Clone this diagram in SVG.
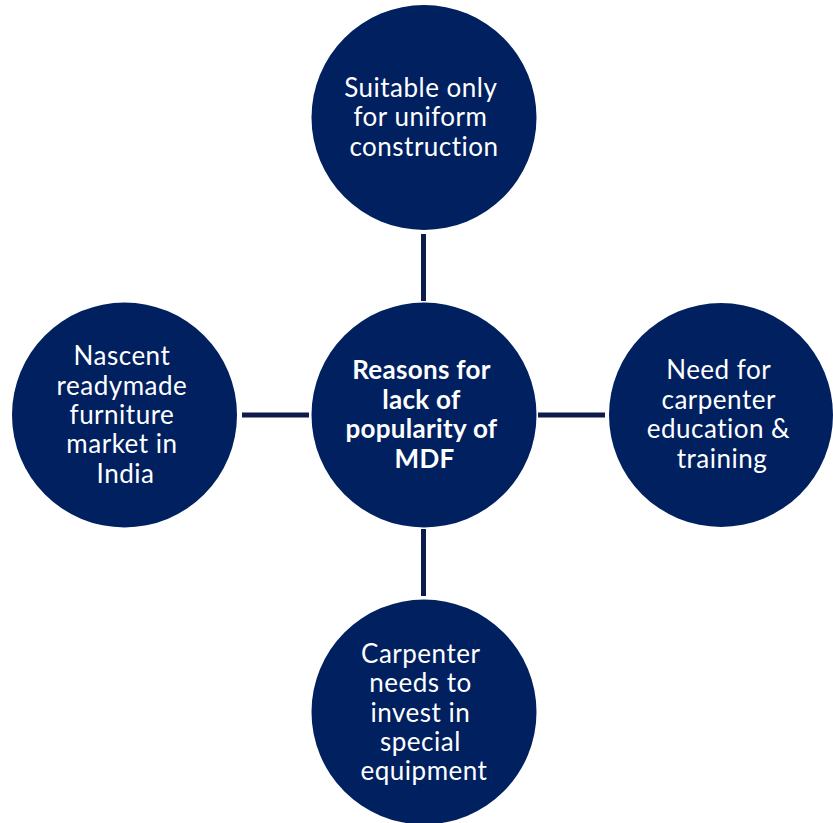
<svg xmlns="http://www.w3.org/2000/svg" width="833" height="823" viewBox="0 0 833 823">
  <style>
    .node { fill: #002060; }
    .link { stroke: #0C1B4A; stroke-width: 5; stroke-linecap: butt; fill: none; }
    .label { font-family: Lato, "Liberation Sans", sans-serif; font-size: 26px; letter-spacing: 0.5px; font-variant-ligatures: none; fill: #FFFFFF; text-anchor: middle; }
    .hub { font-weight: bold; letter-spacing: 0.3px; }
  </style>
  <rect width="833" height="823" fill="#FFFFFF"/>

  <!-- connectors from the hub to each surrounding reason -->
  <g id="connectors">
    <line class="link" x1="423.5" y1="234" x2="423.5" y2="301"/>
    <line class="link" x1="423.5" y1="529" x2="423.5" y2="596"/>
    <line class="link" x1="242" y1="415" x2="309" y2="415"/>
    <line class="link" x1="538" y1="415" x2="605" y2="415"/>
  </g>

  <g id="hub">
    <circle class="node" cx="424" cy="415" r="112.5"/>
    <text class="label hub">
      <tspan x="424.5" y="379">Reasons for</tspan>
      <tspan x="424.5" y="408.5">lack of</tspan>
      <tspan x="424.5" y="438">popularity of</tspan>
      <tspan x="424.5" y="467.5">MDF</tspan>
    </text>
  </g>

  <g id="uniform-construction">
    <circle class="node" cx="424" cy="117.5" r="112.5"/>
    <text class="label">
      <tspan x="424" y="96.5">Suitable only</tspan>
      <tspan x="424" y="126">for uniform</tspan>
      <tspan x="424" y="155.5">construction</tspan>
    </text>
  </g>

  <g id="furniture-market">
    <circle class="node" cx="124.5" cy="415" r="112.5"/>
    <text class="label">
      <tspan x="125.5" y="365">Nascent</tspan>
      <tspan x="125.5" y="394.5">readymade</tspan>
      <tspan x="125.5" y="424">furniture</tspan>
      <tspan x="125.5" y="453">market in</tspan>
      <tspan x="125.5" y="482.5">India</tspan>
    </text>
  </g>

  <g id="carpenter-training">
    <circle class="node" cx="721" cy="415" r="112"/>
    <text class="label">
      <tspan x="722" y="379">Need for</tspan>
      <tspan x="722" y="408.5">carpenter</tspan>
      <tspan x="722" y="438">education &amp;</tspan>
      <tspan x="722" y="467.5">training</tspan>
    </text>
  </g>

  <g id="special-equipment">
    <circle class="node" cx="424" cy="712" r="112.5"/>
    <text class="label">
      <tspan x="424" y="663">Carpenter</tspan>
      <tspan x="424" y="692">needs to</tspan>
      <tspan x="424" y="721.5">invest in</tspan>
      <tspan x="424" y="750.5">special</tspan>
      <tspan x="424" y="780">equipment</tspan>
    </text>
  </g>
</svg>
